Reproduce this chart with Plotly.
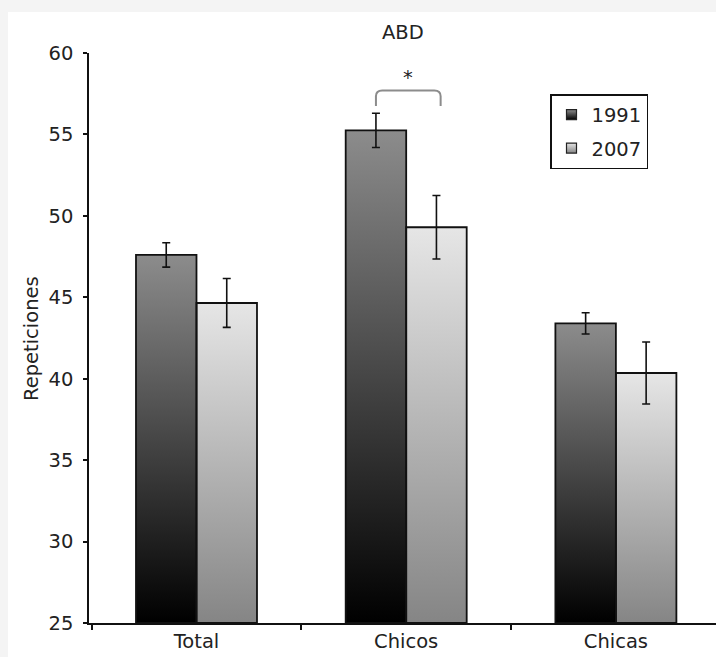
import plotly.graph_objects as go

# ---------------- data ----------------
categories = ["Total", "Chicos", "Chicas"]
series_names = ["1991", "2007"]
values_1991 = [47.6, 55.25, 43.4]
values_2007 = [44.65, 49.3, 40.35]
errors_1991 = [0.75, 1.05, 0.65]
errors_2007 = [1.5, 1.95, 1.9]
y_ticks = [25, 30, 35, 40, 45, 50, 55, 60]
title_text = "ABD"
y_title = "Repeticiones"
sig_category = "Chicos"

# ---------------- style ----------------
FONT = "DejaVu Sans"
FS = 19.5
BASE = 25
Y_RANGE = [25, 60]
X_RANGE = [-0.5126, 2.4774]
BARGAP = 0.423
bar_w = (1 - BARGAP) / 2
grad_1991 = [[0, "#000000"], [1, "#8c8c8c"]]
grad_2007 = [[0, "#858585"], [1, "#e6e6e6"]]
W, H = 716, 657
ML, MR, MT, MB = 89, 0, 53, 34

series = [
    (series_names[0], values_1991, errors_1991, grad_1991, -bar_w / 2),
    (series_names[1], values_2007, errors_2007, grad_2007, bar_w / 2),
]

fig = go.Figure()

# gradient fills (under the bars) on base axes
for name, vals, errs, grad, off in series:
    for i, v in enumerate(vals):
        xc = i + off
        x0, x1 = xc - bar_w / 2, xc + bar_w / 2
        fig.add_trace(go.Scatter(
            x=[x0, x1, x1, x0, x0], y=[BASE, BASE, v, v, BASE],
            mode="lines", fill="toself", line=dict(width=0, color="rgba(0,0,0,0)"),
            fillgradient=dict(type="vertical", colorscale=grad, start=BASE, stop=v),
            showlegend=False, hoverinfo="skip", xaxis="x", yaxis="y",
        ))

# bars (outline + error bars) on overlay axes
for name, vals, errs, grad, off in series:
    fig.add_trace(go.Bar(
        x=list(range(len(categories))), y=[v - BASE for v in vals], base=BASE,
        name=name, showlegend=False,
        marker=dict(color="rgba(0,0,0,0)", line=dict(color="#111111", width=1.8)),
        error_y=dict(type="data", array=errs, color="#111111", thickness=1.6, width=4),
        xaxis="x2", yaxis="y2",
    ))

# legend entries
legend_cols = [("#8c8c8c", "#000000"), ("#e6e6e6", "#858585")]
for (name, vals, errs, grad, off), (top, bot) in zip(series, legend_cols):
    fig.add_trace(go.Scatter(
        x=[None], y=[None], mode="markers", name=name, legendgroup=name,
        marker=dict(symbol="square", size=10, color=top,
                    gradient=dict(type="vertical", color=bot),
                    line=dict(color="#222222", width=1.2)),
        xaxis="x", yaxis="y",
    ))

# significance bracket
ci = categories.index(sig_category)
top_err = max(values_1991[ci] + errors_1991[ci], values_2007[ci] + errors_2007[ci])
y_end = top_err + 0.45
y_top = y_end + 0.95
bx0 = ci - bar_w / 2
bx1 = ci + bar_w / 2 + 0.02
dx = 0.03
dy = 0.35
path = (f"M {bx0},{y_end} L {bx0},{y_top - dy} Q {bx0},{y_top} {bx0 + dx},{y_top} "
        f"L {bx1 - dx},{y_top} Q {bx1},{y_top} {bx1},{y_top - dy} L {bx1},{y_end}")

pw = W - ML - MR
ph = H - MT - MB

fig.update_layout(
    width=W, height=H,
    margin=dict(l=ML, r=MR, t=MT, b=MB, pad=0),
    paper_bgcolor="#f4f4f4",
    plot_bgcolor="white",
    font=dict(family=FONT, size=FS, color="#222222"),
    barmode="group", bargap=BARGAP, bargroupgap=0,
    showlegend=True,
    legend=dict(
        x=(550 - ML) / pw, y=(H - MB - 94) / ph, xanchor="left", yanchor="top",
        bgcolor="white", bordercolor="#111111", borderwidth=1.5,
        font=dict(family=FONT, size=FS, color="#222222"),
        tracegroupgap=5, traceorder="grouped", itemwidth=30,
    ),
    xaxis=dict(
        range=X_RANGE, tickmode="array", tickvals=list(range(len(categories))),
        ticktext=categories, ticks="", showgrid=False, zeroline=False,
        showline=True, linecolor="#111111", linewidth=1.5,
        minor=dict(tickmode="array", tickvals=[-0.5, 0.5, 1.5, 2.5],
                   ticks="outside", ticklen=5, tickcolor="#111111", tickwidth=1.5, showgrid=False),
        tickfont=dict(size=FS, color="#222222"),
    ),
    yaxis=dict(
        range=Y_RANGE, tickmode="array", tickvals=y_ticks,
        ticks="outside", ticklen=4, tickwidth=1.5, tickcolor="#111111",
        showgrid=False, zeroline=False, showline=True, linecolor="#111111", linewidth=1.5,
        ticklabelstandoff=6, tickfont=dict(size=FS, color="#222222"),
    ),
    xaxis2=dict(range=X_RANGE, overlaying="x", visible=False),
    yaxis2=dict(range=Y_RANGE, overlaying="y", visible=False),
    shapes=[
        dict(type="rect", xref="paper", yref="paper",
             x0=(8 - ML) / pw, x1=1.01, y0=-(MB + 5) / ph, y1=(H - MB - 12) / ph,
             fillcolor="white", line=dict(width=0), layer="below"),
        dict(type="path", xref="x", yref="y", path=path,
             line=dict(color="#8c8c8c", width=2), layer="above"),
    ],
    annotations=[
        dict(text=title_text, xref="paper", yref="paper", x=0.5, y=(H - MB - 32) / ph,
             xanchor="center", yanchor="middle", showarrow=False,
             font=dict(family=FONT, size=FS, color="#222222")),
        dict(text=y_title, xref="paper", yref="paper", x=(31 - ML) / pw, y=0.5,
             xanchor="center", yanchor="middle", textangle=-90, showarrow=False,
             font=dict(family=FONT, size=FS, color="#222222")),
        dict(text="*", xref="x", yref="y", x=(bx0 + bx1) / 2, y=y_top + 0.8,
             xanchor="center", yanchor="middle", showarrow=False,
             font=dict(family=FONT, size=FS, color="#222222")),
    ],
)

fig.write_html("out.html")
